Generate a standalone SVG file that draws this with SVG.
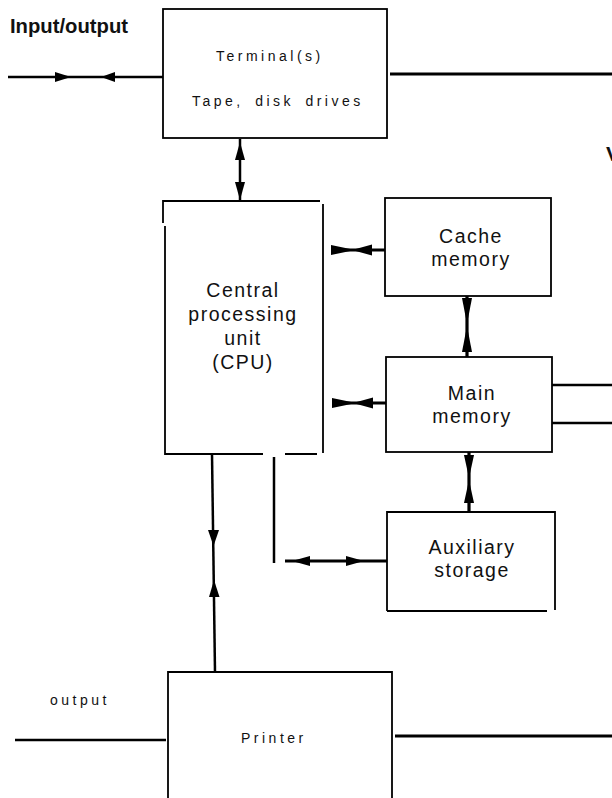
<svg xmlns="http://www.w3.org/2000/svg" width="612" height="798" viewBox="0 0 612 798">
<style>
.box{fill:none;stroke:#000;stroke-width:1.8}
.ln{fill:none;stroke:#000;stroke-width:2.5}
.thick{fill:none;stroke:#000;stroke-width:3.2}
.ah{fill:#000;stroke:none}
.sm{font-family:"Liberation Sans",Arial,sans-serif;font-size:14px;letter-spacing:3.5px;fill:#111}
.lg{font-family:"Liberation Sans",Arial,sans-serif;font-size:19.5px;letter-spacing:1.5px;fill:#111;text-anchor:middle}
.hd{font-family:"Liberation Sans",Arial,sans-serif;font-size:21px;font-weight:bold;fill:#111}
</style>
<rect width="612" height="798" fill="#fff"/>
<text class="hd" x="10" y="33" textLength="118" lengthAdjust="spacingAndGlyphs">Input/output</text>
<text class="hd" x="606" y="161" font-size="18">V</text>
<text class="sm" x="50" y="705" letter-spacing="6">output</text>

<g id="terminal">
<rect class="box" x="163" y="9" width="224" height="129"/>
<text class="sm" x="216" y="61">Terminal(s)</text>
<text class="sm" x="192" y="106" word-spacing="4">Tape, disk drives</text>
</g>

<g id="cpu">
<path class="box" d="M163,223 V201 H320 M165,226 V454 H263 M285,454 H317 M323,204 V453"/>
<text class="lg" x="243" y="297">Central</text>
<text class="lg" x="243" y="321">processing</text>
<text class="lg" x="243" y="345">unit</text>
<text class="lg" x="243" y="369">(CPU)</text>
</g>

<g id="cache">
<rect class="box" x="385" y="198" width="166" height="98"/>
<text class="lg" x="471" y="243">Cache</text>
<text class="lg" x="471" y="266">memory</text>
</g>

<g id="main">
<rect class="box" x="386" y="357" width="166" height="95"/>
<text class="lg" x="472" y="400">Main</text>
<text class="lg" x="472" y="423">memory</text>
</g>

<g id="aux">
<path class="box" d="M387,611 V512 H555 V610 M387,611 H547"/>
<text class="lg" x="472" y="554">Auxiliary</text>
<text class="lg" x="472" y="577">storage</text>
</g>

<g id="printer">
<path class="box" d="M168,798 V672 H392 V798"/>
<text class="sm" x="241" y="743" letter-spacing="4">Printer</text>
</g>

<g id="connectors">
<line class="ln" x1="8" y1="77" x2="163" y2="77"/>
<polygon class="ah" points="55,72 71,77 55,82"/>
<polygon class="ah" points="115,72 101,77 115,82"/>
<line class="thick" x1="390" y1="74" x2="612" y2="74"/>
<line class="ln" x1="240" y1="139" x2="240" y2="200"/>
<polygon class="ah" points="235,160 240,142 245,160"/>
<polygon class="ah" points="235,182 240,200 245,182"/>
<line class="thick" x1="331" y1="250" x2="385" y2="250"/>
<polygon class="ah" points="331,245 355,250 331,255"/>
<polygon class="ah" points="372,244.5 352,250 372,255.5"/>
<line class="thick" x1="332" y1="403" x2="386" y2="403"/>
<polygon class="ah" points="332,398 356,403 332,408"/>
<polygon class="ah" points="373,397.5 353,403 373,408.5"/>
<line class="thick" x1="467" y1="296" x2="467" y2="357"/>
<polygon class="ah" points="462,298 467,324 472,298"/>
<polygon class="ah" points="462,352 467,326 472,352"/>
<line class="thick" x1="469" y1="452" x2="469" y2="512"/>
<polygon class="ah" points="464,455 469,478 474,455"/>
<polygon class="ah" points="464,503 469,480 474,503"/>
<line class="ln" x1="552" y1="385" x2="612" y2="385"/>
<line class="ln" x1="552" y1="423" x2="612" y2="423"/>
<line class="ln" x1="274" y1="457" x2="274" y2="563"/>
<line class="thick" x1="285" y1="561" x2="387" y2="561"/>
<polygon class="ah" points="310,556 292,561 310,566"/>
<polygon class="ah" points="346,556 364,561 346,566"/>
<line class="ln" x1="212" y1="454" x2="215" y2="672"/>
<polygon class="ah" points="208,530 213.5,546 219,530"/>
<polygon class="ah" points="209,597 214,580 219.5,597"/>
<line class="ln" x1="15" y1="740" x2="166" y2="740"/>
<line class="thick" x1="395" y1="736" x2="612" y2="736"/>
</g>
</svg>
